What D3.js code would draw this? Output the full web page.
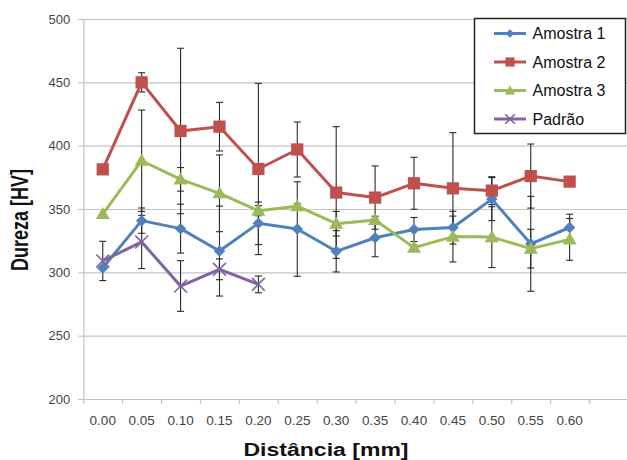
<!DOCTYPE html>
<html>
<head>
<meta charset="utf-8">
<script src="https://cdn.jsdelivr.net/npm/d3@7"></script>
<style>
  body { margin: 0; background: #fff; }
  svg { display: block; font-family: "Liberation Sans", Arial, sans-serif; }
</style>
</head>
<body>
<div id="chart"></div>
<script>
// categories (two empty slots at the end, like the original plot area)
var distancias = ["0.00","0.05","0.10","0.15","0.20","0.25","0.30","0.35","0.40","0.45","0.50","0.55","0.60","",""];
var yTicks = [200, 250, 300, 350, 400, 450, 500];

var amostra1 = [303.5, 340.8, 334.5, 316.8, 338.7, 334.2, 316.6, 327.3, 333.8, 335.4, 357.8, 322.5, 335.4];
var erro1    = [0, 10, 19.3, 35.5, 16.8, 37.3, 16.3, 15, 9.5, 9, 17, 37.5, 10.5];
var amostra2 = [381.3, 450, 411.6, 415, 381.6, 397, 363, 359, 370.3, 366.3, 364.5, 376, 371.6];
var erro2    = [0, 7.6, 65.3, 19.2, 67.6, 21.7, 52, 25, 20.5, 44, 11, 25.3, 0];
var amostra3 = [346, 388.1, 373.4, 362.4, 348.7, 352.2, 338.4, 341.3, 319.5, 328.2, 327.8, 318.7, 326];
var erro3    = [0, 40, 9.3, 30.3, 4, 2, 9.7, 3, 2, 20, 24, 15.3, 16.5];
var padrao   = [309, 324, 289.2, 302.4, 290.5];
var erroP    = [15.5, 21, 20, 8.2, 6.6];

var svgWidth = 627;
var svgHeight = 460;
var margin = { top: 19, right: -1, bottom: 61, left: 83.3 };
var width = svgWidth - margin.left - margin.right;
var height = svgHeight - margin.top - margin.bottom;

var svg = d3.select("#chart")
  .append("svg")
  .attr("width", svgWidth)
  .attr("height", svgHeight);

var chartGroup = svg.append("g")
  .attr("transform", `translate(${margin.left},${margin.top})`);

var x = d3.scaleBand().domain(distancias).range([0, width]).padding(0);
var y = d3.scaleLinear().domain([200, 500]).range([height, 0]);

var gridColor = "#c4c4c4";

// gridlines
chartGroup.append("g")
  .selectAll("line")
  .data(yTicks.slice(1))
  .enter()
  .append("line")
  .attr("x1", 0)
  .attr("x2", width)
  .attr("y1", d => y(d) + 0.5)
  .attr("y2", d => y(d) + 0.5)
  .attr("stroke", gridColor)
  .attr("stroke-width", 1.2);

// y axis
var leftAxis = d3.axisLeft(y).tickValues(yTicks).tickSize(5).tickPadding(8);
var yAxis = chartGroup.append("g").call(leftAxis);
yAxis.select(".domain").attr("stroke", gridColor).attr("stroke-width", 1.2);
yAxis.selectAll(".tick line").attr("stroke", gridColor).attr("stroke-width", 1.2);
yAxis.selectAll("text")
  .attr("font-size", "13px")
  .attr("fill", "#444");

// x axis (ticks between categories)
var xAxisG = chartGroup.append("g").attr("transform", `translate(0,${height})`);
xAxisG.append("line")
  .attr("x1", 0).attr("x2", width)
  .attr("y1", 0.5).attr("y2", 0.5)
  .attr("stroke", gridColor).attr("stroke-width", 1.2);
xAxisG.selectAll(".bt")
  .data(distancias)
  .enter()
  .append("line")
  .attr("class", "bt")
  .attr("x1", d => x(d) + 0.5)
  .attr("x2", d => x(d) + 0.5)
  .attr("y1", 0)
  .attr("y2", 5)
  .attr("stroke", gridColor).attr("stroke-width", 1.2);
xAxisG.selectAll(".xl")
  .data(distancias)
  .enter()
  .append("text")
  .attr("class", "xl")
  .attr("x", d => x(d) + x.bandwidth() / 2)
  .attr("y", 26)
  .attr("text-anchor", "middle")
  .attr("font-size", "13.5px")
  .attr("fill", "#444")
  .text(d => d);

// axis titles
svg.append("text")
  .attr("transform", "translate(28,220) scale(1.3,1) rotate(-90)")
  .attr("text-anchor", "middle")
  .attr("font-size", "18px")
  .attr("font-weight", "bold")
  .attr("fill", "#111")
  .text("Dureza [HV]");

svg.append("text")
  .attr("transform", "translate(326,456) scale(1.28,1)")
  .attr("text-anchor", "middle")
  .attr("font-size", "18px")
  .attr("font-weight", "bold")
  .attr("fill", "#111")
  .text("Distância [mm]");

var series = [
  { name: "Amostra 1", values: amostra1, err: erro1, color: "#4f81bd", symbol: "diamond" },
  { name: "Amostra 2", values: amostra2, err: erro2, color: "#c0504d", symbol: "square" },
  { name: "Amostra 3", values: amostra3, err: erro3, color: "#9bbb59", symbol: "triangle" },
  { name: "Padrão", values: padrao, err: erroP, color: "#8064a2", symbol: "x" }
];

function cx(i) { return x(distancias[i]) + x.bandwidth() / 2; }

function drawMarker(g, s, scale) {
  var k = scale || 1;
  if (s.symbol === "diamond") {
    g.append("path")
      .attr("d", d3.symbol().type(d3.symbolSquare).size(66 * k * k)())
      .attr("transform", "rotate(45)")
      .attr("fill", s.color);
  } else if (s.symbol === "square") {
    g.append("path")
      .attr("d", d3.symbol().type(d3.symbolSquare).size(150 * k * k)())
      .attr("fill", s.color);
  } else if (s.symbol === "triangle") {
    g.append("path")
      .attr("d", d3.symbol().type(d3.symbolTriangle).size(85 * k * k)())
      .attr("transform", "translate(0,1)")
      .attr("fill", s.color);
  } else {
    var xType = d3.symbolTimes || d3.symbolX;
    if (xType) {
      g.append("path")
        .attr("d", d3.symbol().type(xType).size(110 * k * k)())
        .attr("fill", "none")
        .attr("stroke", s.color)
        .attr("stroke-width", 1.6);
    } else {
      g.append("path")
        .attr("d", d3.symbol().type(d3.symbolCross).size(60 * k * k)())
        .attr("transform", "rotate(45)")
        .attr("fill", s.color);
    }
  }
}

// error bars
var errGroup = chartGroup.append("g");
series.forEach(function(s) {
  s.values.forEach(function(v, i) {
    var e = s.err[i];
    if (!e) return;
    var xc = cx(i);
    var g = errGroup.append("g").attr("stroke", "#2a2a2a").attr("stroke-width", 1.1);
    g.append("line").attr("x1", xc).attr("x2", xc).attr("y1", y(v - e)).attr("y2", y(v + e));
    g.append("line").attr("x1", xc - 3.5).attr("x2", xc + 3.5).attr("y1", y(v + e)).attr("y2", y(v + e));
    g.append("line").attr("x1", xc - 3.5).attr("x2", xc + 3.5).attr("y1", y(v - e)).attr("y2", y(v - e));
  });
});

// lines + markers
var line = d3.line()
  .x((d, i) => cx(i))
  .y(d => y(d));

series.forEach(function(s) {
  chartGroup.append("path")
    .datum(s.values)
    .attr("d", line)
    .attr("fill", "none")
    .attr("stroke", s.color)
    .attr("stroke-width", 3)
    .attr("stroke-linejoin", "round");
  s.values.forEach(function(v, i) {
    var g = chartGroup.append("g").attr("transform", `translate(${cx(i)},${y(v)})`);
    drawMarker(g, s);
  });
});

// legend
var legend = svg.append("g").attr("transform", "translate(474,18)");
legend.append("rect")
  .attr("x", 0.5).attr("y", 0.5)
  .attr("width", 151).attr("height", 115)
  .attr("fill", "#fff")
  .attr("stroke", "#222")
  .attr("stroke-width", 1.5);

series.forEach(function(s, i) {
  var row = legend.append("g").attr("transform", `translate(0,${15.5 + i * 28.5})`);
  row.append("line")
    .attr("x1", 20).attr("x2", 52)
    .attr("y1", 0).attr("y2", 0)
    .attr("stroke", s.color)
    .attr("stroke-width", 3);
  var m = row.append("g").attr("transform", "translate(36,0)");
  drawMarker(m, s, 0.75);
  row.append("text")
    .attr("x", 58.5)
    .attr("y", 0)
    .attr("dy", "0.36em")
    .attr("font-size", "16px")
    .attr("fill", "#111")
    .text(s.name);
});
</script>
</body>
</html>
